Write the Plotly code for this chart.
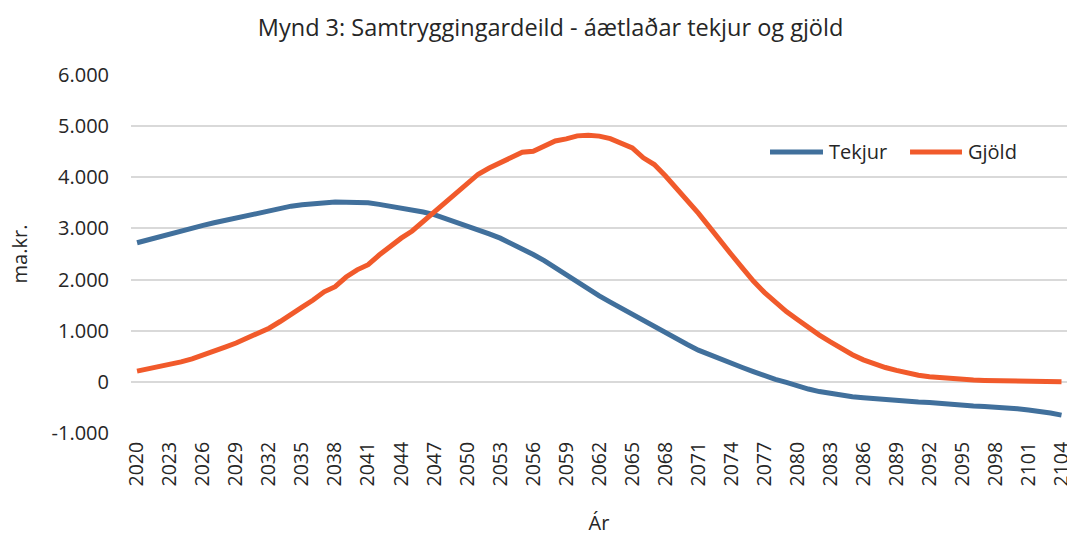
import plotly.graph_objects as go

years = list(range(2020, 2105))

tekjur = [2720, 2780, 2840, 2890, 2950, 3010, 3060, 3110, 3160, 3210,
          3260, 3300, 3340, 3400, 3435, 3465, 3485, 3495, 3515, 3510,
          3510, 3500, 3470, 3435, 3400, 3370, 3320, 3270, 3200, 3130,
          3060, 2980, 2895, 2810, 2710, 2600, 2490, 2370, 2230, 2090,
          1960, 1820, 1680, 1560, 1440, 1320, 1190, 1070, 950, 840,
          730, 620, 530, 440, 360, 280, 200, 120, 50, -10,
          -80, -140, -190, -230, -265, -290, -310, -330, -350, -365,
          -385, -395, -405, -425, -440, -455, -470, -480, -490, -505,
          -525, -550, -575, -610, -650]

gjold = [210, 250, 290, 340, 390, 450, 520, 600, 680, 760,
         850, 950, 1050, 1180, 1310, 1460, 1600, 1760, 1860, 2050,
         2190, 2290, 2480, 2660, 2810, 2950, 3140, 3300, 3500, 3700,
         3880, 4060, 4180, 4290, 4390, 4490, 4510, 4620, 4710, 4750,
         4810, 4820, 4805, 4755, 4675, 4575, 4380, 4250, 4030, 3790,
         3545, 3300, 3030, 2750, 2490, 2230, 1970, 1750, 1550, 1375,
         1220, 1060, 915, 780, 650, 530, 430, 350, 280, 225,
         170, 130, 100, 80, 60, 45, 35, 28, 22, 18,
         15, 12, 10, 5, 0]

series_names = ["Tekjur", "Gjöld"]
y_tickvals = [-1000, 0, 1000, 2000, 3000, 4000, 5000, 6000]
y_ticktext = ["-1.000", "0", "1.000", "2.000", "3.000", "4.000", "5.000", "6.000"]
x_tickvals = list(range(2020, 2105, 3))

BLUE = "#41709C"
ORANGE = "#F15A2B"
TXT = "#262626"
FONT = "Open Sans"

fig = go.Figure()
fig.add_trace(go.Scatter(x=years, y=tekjur, mode="lines", name=series_names[0],
                         line=dict(color=BLUE, width=5), showlegend=False))
fig.add_trace(go.Scatter(x=years, y=gjold, mode="lines", name=series_names[1],
                         line=dict(color=ORANGE, width=5), showlegend=False))

# custom legend (sample lines + labels) in paper coordinates
legend_items = [
    (series_names[0], BLUE, 0.6827, 0.7393, 0.7436),
    (series_names[1], ORANGE, 0.8323, 0.8878, 0.8921),
]
ly = 0.785
for name, col, x0, x1, xt in legend_items:
    fig.add_shape(type="line", xref="paper", yref="paper", x0=x0, x1=x1, y0=ly, y1=ly,
                  line=dict(color=col, width=5))
    fig.add_annotation(text=name, xref="paper", yref="paper", x=xt, y=ly,
                       xanchor="left", yanchor="middle", showarrow=False,
                       font=dict(size=20, family=FONT, color=TXT))

fig.update_layout(
    width=1067, height=538,
    margin=dict(l=131, r=0, t=75, b=105),
    paper_bgcolor="white", plot_bgcolor="white",
    font=dict(family=FONT, color=TXT),
    title=dict(text="Mynd 3: Samtryggingardeild - áætlaðar tekjur og gjöld",
               x=0.516, xanchor="center", y=0.948, yanchor="middle",
               font=dict(size=23.5, family=FONT, color=TXT)),
    showlegend=False,
)

fig.update_xaxes(
    range=[2019.45, 2104.5], automargin=False,
    tickmode="array", tickvals=x_tickvals, ticktext=[str(v) for v in x_tickvals],
    tickangle=-90, tickfont=dict(size=19.5, family=FONT, color=TXT),
    ticklabeloverflow="allow",
    showgrid=False, zeroline=False, showline=False, ticks="", ticklabelstandoff=4,
    title=dict(text="Ár", font=dict(size=20, family=FONT, color=TXT), standoff=30),
)
fig.update_yaxes(
    range=[-1000, 6000], automargin=False,
    tickmode="array", tickvals=y_tickvals, ticktext=y_ticktext,
    tickfont=dict(size=20, family=FONT, color=TXT),
    showgrid=True, gridcolor="#D9D9D9", gridwidth=1.5,
    zeroline=False, showline=False, ticks="", ticklabelstandoff=21,
    title=dict(text="ma.kr.", font=dict(size=20, family=FONT, color=TXT), standoff=18),
)

fig.write_html("out.html",
               config={"displayModeBar": False},
               post_script="document.body.style.margin='0';document.body.style.overflow='hidden';")
